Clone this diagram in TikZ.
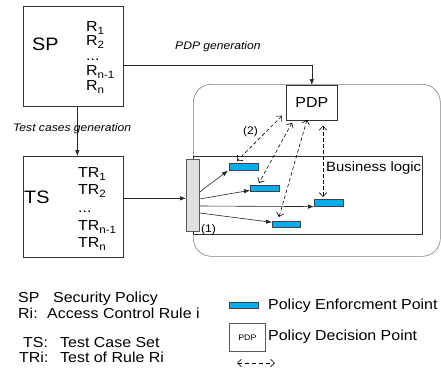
\documentclass[tikz,border=0pt]{standalone}
\usepackage{fontspec}
\setmainfont{Liberation Sans}[FakeStretch=1.1]
\usetikzlibrary{arrows.meta}
\definecolor{pepblue}{RGB}{0,174,239}
\definecolor{barfill}{RGB}{221,224,221}
\newcommand\titlefont{\fontsize{18}{20}\selectfont}
\newcommand\rlfont{\fontsize{14.5}{16}\selectfont}
\newcommand\bizfont{\fontsize{13.5}{15}\selectfont}
\newcommand\lgfont{\fontsize{14.5}{16}\selectfont}
\newcommand\smfont{\fontsize{11}{13}\selectfont}
\newcommand\idx[1]{\raisebox{-3pt}{\fontsize{10.5}{12}\selectfont #1}}
\begin{document}
\begin{tikzpicture}[x=1pt,y=-1pt,
  box/.style={draw=black!80, line width=0.7pt, inner sep=0pt, anchor=north west},
  pep/.style={draw=black!75, fill=pepblue, line width=0.6pt, inner sep=0pt,
    minimum width=29pt, minimum height=7pt, anchor=north west},
  lbl/.style={inner sep=0pt, anchor=base west},
  arr/.style={-{Latex[length=6pt,width=4.5pt]}, line width=0.6pt, draw=black!85},
  link/.style={{Straight Barb[length=4pt,width=7.5pt]}-{Straight Barb[length=4pt,width=7.5pt]},
    dash pattern=on 3.5pt off 2.5pt, line width=0.6pt},
]
\useasboundingbox (0,0) rectangle (441,370);

% security policy
\node[box, minimum width=100pt, minimum height=100pt] (sp) at (23,6) {};
\node[lbl, font=\titlefont] (sptitle) at (32,50) {SP};
\node[lbl, font=\rlfont] (r1) at (86,31) {R\idx{1}};
\node[lbl, font=\rlfont] (r2) at (86,45) {R\idx{2}};
\node[lbl, font=\rlfont] (rd) at (86,60) {...};
\node[lbl, font=\rlfont] (rm) at (86,75) {R\idx{n-1}};
\node[lbl, font=\rlfont] (rn) at (86,90) {R\idx{n}};

% test case set
\node[box, minimum width=100pt, minimum height=101pt] (ts) at (23,156) {};
\node[lbl, font=\titlefont] (tstitle) at (24,203) {TS};
\node[lbl, font=\rlfont] (t1) at (78,177) {TR\idx{1}};
\node[lbl, font=\rlfont] (t2) at (78,194) {TR\idx{2}};
\node[lbl, font=\rlfont] (td) at (78,212) {...};
\node[lbl, font=\rlfont] (tm) at (78,230) {TR\idx{n-1}};
\node[lbl, font=\rlfont] (tn) at (78,247) {TR\idx{n}};

% application under test
\node[draw=black!50, line width=0.6pt, rounded corners=18pt, inner sep=0pt,
  minimum width=247pt, minimum height=172pt, anchor=north west] (app) at (193,84) {};
\node[box, minimum width=229pt, minimum height=78pt] (biz) at (193,156) {};
\node[lbl, font=\bizfont] (biztxt) at (326,171) {Business logic};

\node[box, minimum width=51pt, minimum height=35pt, anchor=north west,
  font=\fontsize{14.5}{16}\selectfont] (pdp) at (286,85) {PDP};

\node[pep] (pep1) at (229,163) {};
\node[pep, minimum height=6pt] (pep2) at (250,185) {};
\node[pep] (pep3) at (314,199) {};
\node[pep, minimum height=6pt, minimum width=28pt] (pep4) at (272,221) {};

\node[draw=black!65, fill=barfill, line width=0.6pt, inner sep=0pt,
  minimum width=13pt, minimum height=72pt, anchor=north west] (bar) at (186,159) {};

% generation steps
\draw[arr] ([yshift=-9pt]sp.east) -| (pdp.north);
\node[lbl, font=\smfont\itshape] (pdpgen) at (175,49) {PDP generation};
\draw[arr] ([xshift=4pt]sp.south) -- ([xshift=4pt]ts.north);
\node[lbl, font=\smfont\itshape] (tcgen) at (13,131) {Test cases generation};

% test execution
\draw[arr] ([yshift=8.5pt]ts.east) coordinate (tsout) -- (tsout -| bar.west);
\draw[arr] ([yshift=-33pt]bar.north east) -- ([xshift=-1pt]pep1.south west);
\draw[arr] ([yshift=-40pt]bar.north east) -- ([yshift=-2pt]pep2.west);
\draw[arr] ([yshift=-47pt]bar.north east) -- (pep3.south west);
\draw[arr] ([yshift=-54pt]bar.north east) -- ([yshift=2pt]pep4.west);

% PEP <-> PDP requests
\draw[link] ([shift={(-4,-5)}]pdp.south west) -- ([shift={(8,-2)}]pep1.north west);
\draw[link] ([shift={(6,2)}]pdp.south west) -- ([shift={(9,-2)}]pep2.north west);
\draw[link] ([shift={(21,-1)}]pdp.south west) -- ([shift={(7,-4)}]pep4.north west);
\draw[link] ([shift={(37,5)}]pdp.south west) -- ([shift={(9,-2)}]pep3.north west);

\node[lbl, font=\smfont] (lab2) at (243,134) {(2)};
\node[lbl, font=\smfont] (lab1) at (201,232) {(1)};

% legend
\node[lbl, font=\lgfont] (lsp) at (18,302) {\makebox[35pt][l]{SP}Security Policy};
\node[lbl, font=\lgfont] (lri) at (18,318) {\makebox[29pt][l]{Ri:}Access Control Rule i};
\node[lbl, font=\lgfont] (lts) at (23,347) {\makebox[37pt][l]{TS:}Test Case Set};
\node[lbl, font=\lgfont] (ltr) at (19,362) {\makebox[41pt][l]{TRi:}Test of Rule Ri};

\node[pep, minimum height=6pt] (lpep) at (229,302) {};
\node[lbl, font=\lgfont] (lpeptxt) at (268,309) {Policy Enforcment Point};
\node[box, draw=black!65, minimum width=36pt, minimum height=28pt,
  font=\fontsize{8}{9}\selectfont] (lpdp) at (229,323) {PDP};
\node[lbl, font=\lgfont] (lpdptxt) at (268,340) {Policy Decision Point};
\coordinate (lnkl) at (237,363);
\coordinate (lnkr) at (275,363);
\draw[link, dash pattern=on 4pt off 3pt] (lnkl) -- (lnkr);
\end{tikzpicture}
\end{document}
